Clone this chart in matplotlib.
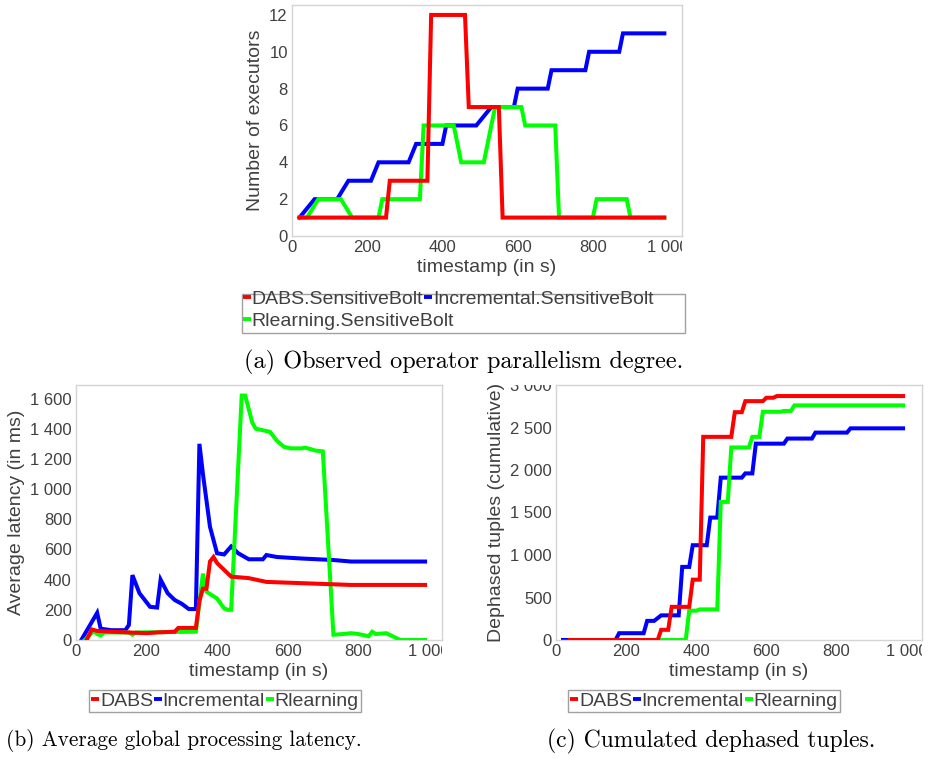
import matplotlib
matplotlib.use("Agg")
import matplotlib.pyplot as plt
from matplotlib.ticker import FuncFormatter
from matplotlib.transforms import Bbox, TransformedBbox
from matplotlib.lines import Line2D
from matplotlib.patches import Rectangle

plt.rcParams['font.family'] = ['Liberation Sans', 'DejaVu Sans']

RED, BLUE, GREEN = '#ff0000', '#0000ff', '#00ff00'
GREY = '#404040'

# (a) number of executors
t_a_dabs = [20, 250, 260, 360, 370, 460, 470, 550, 560, 990]
dabs_a = [1, 1, 3, 3, 12, 12, 7, 7, 1, 1]
t_a_inc = [20, 60, 120, 150, 210, 230, 310, 330, 400, 410, 490, 530, 590, 600,
           680, 690, 780, 790, 870, 880, 990]
inc_a = [1, 2, 2, 3, 3, 4, 4, 5, 5, 6, 6, 7, 7, 8, 8, 9, 9, 10, 10, 11, 11]
t_a_rl = [20, 40, 70, 130, 160, 230, 240, 340, 350, 430, 450, 510, 540, 610,
          620, 700, 710, 800, 810, 890, 900, 990]
rl_a = [1, 1, 2, 2, 1, 1, 2, 2, 6, 6, 4, 4, 7, 7, 6, 6, 1, 1, 2, 2, 1, 1]

# (b) average latency (ms)
t_b_dabs = [30, 45, 60, 100, 200, 230, 280, 290, 340, 350, 360, 370, 380, 390,
            400, 420, 440, 490, 520, 540, 780, 990]
dabs_b = [0, 70, 60, 55, 45, 50, 55, 80, 80, 260, 340, 340, 520, 550,
          510, 465, 420, 410, 395, 385, 365, 365]
t_b_inc = [15, 60, 70, 100, 140, 150, 160, 180, 210, 230, 240, 260, 280, 300,
           320, 340, 350, 360, 380, 400, 420, 440, 460, 490, 530, 540, 570,
           640, 730, 780, 990]
inc_b = [0, 180, 75, 65, 65, 100, 430, 310, 220, 215, 400, 310, 265, 240,
         205, 205, 1300, 1100, 750, 575, 567, 620, 575, 535, 535, 563, 550,
         540, 530, 520, 520]
t_b_rl = [25, 50, 60, 70, 80, 150, 160, 170, 340, 360, 370, 400, 420, 430,
          440, 470, 480, 500, 510, 530, 550, 570, 590, 610, 640, 650, 680,
          700, 730, 760, 780, 800, 830, 840, 850, 880, 920, 990]
rl_b = [0, 60, 40, 30, 50, 50, 35, 50, 55, 440, 320, 275, 210, 200,
        200, 1620, 1620, 1440, 1400, 1390, 1380, 1320, 1280, 1270, 1270, 1275, 1255,
        1250, 35, 40, 45, 40, 25, 55, 40, 45, 0, 0]

# (c) cumulated dephased tuples
t_c_dabs = [40, 290, 300, 320, 330, 380, 390, 410, 420, 500, 510, 530, 540,
            590, 600, 620, 630, 990]
dabs_c = [0, 0, 120, 120, 390, 390, 710, 710, 2390, 2390, 2680, 2680, 2810,
          2810, 2850, 2850, 2870, 2870]
t_c_inc = [20, 170, 180, 250, 260, 280, 300, 350, 360, 380, 390, 430, 440, 460,
           470, 530, 540, 560, 570, 650, 660, 730, 740, 830, 840, 990]
inc_c = [0, 0, 80, 80, 225, 225, 290, 290, 860, 860, 1115, 1115, 1440, 1440,
         1910, 1910, 1960, 1960, 2310, 2310, 2370, 2370, 2440, 2440, 2490, 2490]
t_c_rl = [40, 370, 380, 400, 410, 460, 470, 490, 500, 550, 560, 580, 590, 640,
          650, 670, 680, 990]
rl_c = [0, 0, 345, 345, 360, 360, 1625, 1625, 2265, 2265, 2390, 2390, 2685,
        2685, 2695, 2695, 2760, 2760]

W, H = 931, 758
fig = plt.figure(figsize=(W / 100, H / 100), dpi=100)


def px_axes(l, t, r, b):
    return fig.add_axes([l / W, 1 - b / H, (r - l) / W, (b - t) / H])


fmt = FuncFormatter(lambda v, p: f"{v:,.0f}".replace(",", " "))


def style(ax, xmax, ymax, yticks, ylabel):
    ax.set_xlim(0, xmax)
    ax.set_ylim(0, ymax)
    ax.set_xticks([0, 200, 400, 600, 800, 1000])
    ax.set_yticks(yticks)
    ax.xaxis.set_major_formatter(fmt)
    ax.yaxis.set_major_formatter(fmt)
    for s in ax.spines.values():
        s.set_color('#d4d4d4')
        s.set_linewidth(1.0)
    ax.tick_params(length=0, labelsize=12, colors=GREY, pad=3)
    ax.set_xlabel('timestamp (in s)', fontsize=14, color=GREY, labelpad=3)
    ax.set_ylabel(ylabel, fontsize=14, color=GREY, labelpad=4)
    clip = TransformedBbox(Bbox([[-1, -1], [1, 1]]), ax.transAxes)
    for lbl in ax.get_xticklabels() + ax.get_yticklabels():
        lbl.set_clip_box(clip)
        lbl.set_clip_on(True)


def draw(ax, series):
    for (t, v, c, z) in series:
        ax.plot(t, v, color=c, lw=2.9, zorder=z, solid_joinstyle='miter')


def handle(c):
    return Line2D([], [], color=c, lw=2.8, solid_capstyle='butt')


# (a)
ax1 = px_axes(292, 5, 682, 236)
draw(ax1, [(t_a_dabs, dabs_a, RED, 4), (t_a_inc, inc_a, BLUE, 2),
           (t_a_rl, rl_a, GREEN, 3)])
style(ax1, 1037, 12.54, [0, 2, 4, 6, 8, 10, 12], 'Number of executors')

leg_kw = dict(frameon=False, fontsize=14, handlelength=0.4, handletextpad=0.05,
              columnspacing=0.05, borderpad=0, borderaxespad=0,
              labelcolor=GREY)
fig.legend([handle(RED), handle(BLUE)],
           ['DABS.SensitiveBolt', 'Incremental.SensitiveBolt'],
           loc='upper left', bbox_to_anchor=(243 / W, 1 - 290 / H), ncol=2,
           **leg_kw)
fig.legend([handle(GREEN)], ['Rlearning.SensitiveBolt'],
           loc='upper left', bbox_to_anchor=(243 / W, 1 - 312 / H), **leg_kw)
fig.add_artist(Rectangle((242 / W, 1 - 333 / H), 443 / W, 39 / H,
                         transform=fig.transFigure, fill=False,
                         edgecolor='#a0a0a0', lw=1))

# (b)
ax2 = px_axes(76, 385, 442, 640)
draw(ax2, [(t_b_dabs, dabs_b, RED, 4), (t_b_inc, inc_b, BLUE, 2),
           (t_b_rl, rl_b, GREEN, 3)])
style(ax2, 1038, 1690, [0, 200, 400, 600, 800, 1000, 1200, 1400, 1600],
      'Average latency (in ms)')

# (c)
ax3 = px_axes(556, 385, 922, 640)
draw(ax3, [(t_c_dabs, dabs_c, RED, 4), (t_c_inc, inc_c, BLUE, 2),
           (t_c_rl, rl_c, GREEN, 3)])
style(ax3, 1044, 3000, [0, 500, 1000, 1500, 2000, 2500, 3000],
      'Dephased tuples (cumulative)')

leg_kw2 = dict(fontsize=14, handlelength=0.4, handletextpad=0.05,
               columnspacing=0.05, borderpad=0.1, borderaxespad=0,
               labelcolor=GREY, ncol=3, fancybox=False, edgecolor='#a0a0a0',
               framealpha=1)
names = ['DABS', 'Incremental', 'Rlearning']
hs = [handle(RED), handle(BLUE), handle(GREEN)]
fig.legend(hs, names, loc='center', bbox_to_anchor=(225 / W, 1 - 701 / H),
           **leg_kw2).get_frame().set_linewidth(1)
fig.legend(hs, names, loc='center', bbox_to_anchor=(704 / W, 1 - 701 / H),
           **leg_kw2).get_frame().set_linewidth(1)

# captions
cap = dict(fontfamily='cmr10', color='black', ha='center', va='center')
fig.text(464 / W, 1 - 362 / H, '(a) Observed operator parallelism degree.',
         fontsize=17.5, **cap)
fig.text(184 / W, 1 - 741 / H, '(b) Average global processing latency.',
         fontsize=15.3, **cap)
fig.text(711 / W, 1 - 741 / H, '(c) Cumulated dephased tuples.',
         fontsize=17, **cap)

fig.savefig('out.png', dpi=100)
